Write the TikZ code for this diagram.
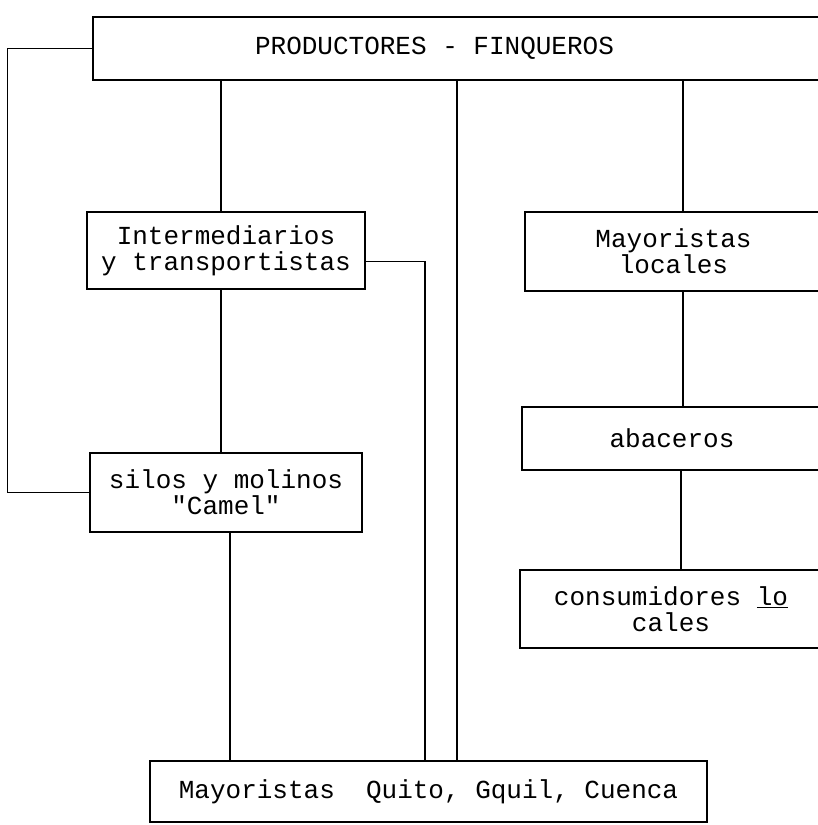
\documentclass[tikz,border=0pt]{standalone}
\usepackage{fontspec}
\usepackage{tikz}
\newfontfamily\typefont{Liberation Mono}
\tikzset{flowbox/.style={draw, line width=1.2pt, inner sep=0pt, align=center,
    font=\typefont\fontsize{26}{26}\selectfont}}

\begin{document}
\begin{tikzpicture}[x=1pt,y=-1pt,line width=1.2pt]
	\useasboundingbox (0,0) rectangle (818,825);
	\clip (0,0) rectangle (818,825);
	\node[flowbox,minimum width=729pt,minimum height=63pt] (prod) at (457.5,48.5) {PRODUCTORES - FINQUEROS\hspace*{46pt}};
	\node[flowbox,minimum width=278pt,minimum height=77pt] (inter) at (226,250.5) {Intermediarios\\y transportistas};
	\node[flowbox,minimum width=272pt,minimum height=79pt] (silos) at (226,492.5) {silos y molinos\\"Camel"};
	\node[flowbox,minimum width=297pt,minimum height=79pt] (mayloc) at (673.5,251.5) {Mayoristas\\locales};
	\node[flowbox,minimum width=300pt,minimum height=63pt] (abac) at (672,438.5) {abaceros};
	\node[flowbox,minimum width=302pt,minimum height=78pt] (consum) at (671,609) {consumidores \underline{lo}\\cales};
	\node[flowbox,minimum width=557pt,minimum height=61pt] (mayq) at (428.5,791.5) {Mayoristas\ \ Quito, Gquil, Cuenca};
	\draw (prod.west) -- ++(-85,0) |- (silos.west);
	\draw (221,0 |- prod.south) -- (221,0 |- inter.north);
	\draw (221,0 |- inter.south) -- (221,0 |- silos.north);
	\draw ([xshift=4pt]silos.south) -- ([xshift=4pt]silos.south |- mayq.north);
	\draw ([yshift=-11pt]inter.east) -| (425,0 |- mayq.north);
	\draw (457,0 |- prod.south) -- (457,0 |- mayq.north);
	\draw (683,0 |- prod.south) -- (683,0 |- mayloc.north);
	\draw (683,0 |- mayloc.south) -- (683,0 |- abac.north);
	\draw (681,0 |- abac.south) -- (681,0 |- consum.north);
\end{tikzpicture}
\end{document}
